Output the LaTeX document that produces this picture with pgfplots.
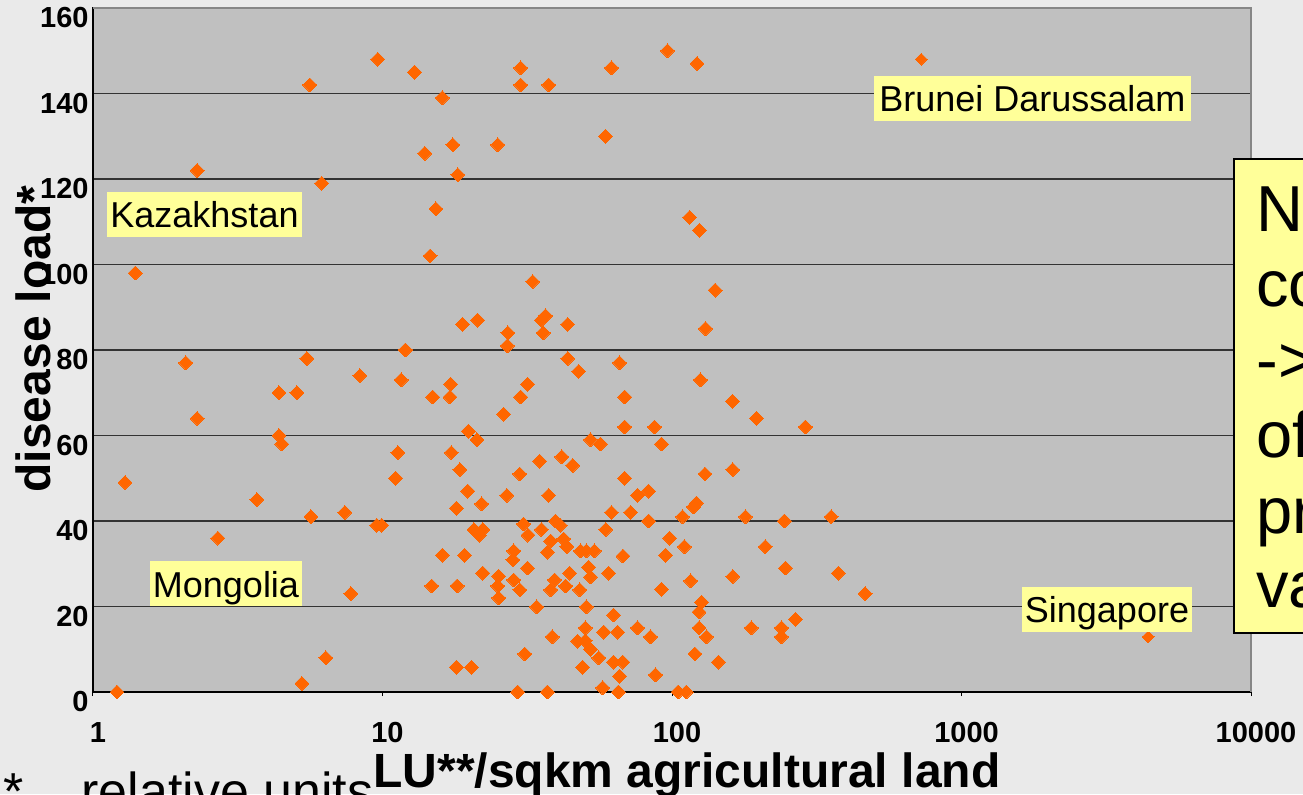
\documentclass[border=0pt]{standalone}
\usepackage{pgfplots}
\pgfplotsset{compat=1.18}
\usepackage{fontspec}
\setmainfont{Liberation Sans}
\definecolor{outerbg}{HTML}{EAEAEA}
\definecolor{plotbg}{HTML}{C0C0C0}
\definecolor{dots}{HTML}{FF6600}
\definecolor{labelyellow}{HTML}{FFFF99}
\definecolor{gridc}{HTML}{333333}
\definecolor{borderc}{HTML}{868686}
\begin{document}
\begin{tikzpicture}
\fill[outerbg] (0,0) rectangle (651.5pt,397pt);
\clip (0,0) rectangle (651.5pt,397pt);
\begin{scope}[x=0.5pt,y=-0.5pt,shift={(0pt,397pt)}]
 \node[anchor=base west, inner sep=0pt, font=\fontsize{26}{26}\selectfont] at (3,809) {*};
 \node[anchor=base west, inner sep=0pt, font=\fontsize{26}{26}\selectfont] at (81,809) {relative units};
\end{scope}
\begin{axis}[
 at={(46.5pt,51pt)}, anchor=south west,
 scale only axis, width=579pt, height=342pt,
 xmode=log, xmin=1, xmax=10000, ymin=0, ymax=160,
 xtick={1,10,100,1000,10000}, xticklabels={1,10,100,1000,10000},
 ytick={0,20,40,60,80,100,120,140,160}, yticklabels={0,20,40,60,80,100,120,140,160},
 xminorticks=false,
 tick pos=left,
 tick align=outside,
 major tick length=2pt,
 ytick style={draw=none},
 xtick style={black, line width=0.5pt},
 ymajorgrids, major grid style={gridc, line width=0.6pt},
 axis background/.style={fill=plotbg},
 axis line style={black, line width=0.6pt},
 tick label style={font=\fontsize{14.5}{14.5}\selectfont\bfseries},
 xticklabel style={anchor=north, inner sep=0pt, yshift=-13pt, xshift=2.5pt},
 yticklabel style={anchor=east, inner sep=0pt, yshift=-5pt},
 clip=false,
]
\addplot[only marks, mark=square*, mark size=2.45pt, mark options={rotate=45, fill=dots, draw=dots, line width=0pt}] coordinates {
(9.63,148) (12.9,145) (5.61,142) (16.1,139) (30.0,146) (30.0,142) (37.5,142) (61.8,146) (96.5,150) (122,147) (58.9,130) (25.0,128) (14.0,126) (17.5,128) (18.2,121) (2.29,122) (6.17,119) (15.3,113) (115,111) (124.5,108) (14.6,102) (1.40,98) (33.0,96) (141,94)
(18.9,86) (21.3,87) (27.1,84) (27.0,81) (36.6,88) (35.4,87) (35.9,84) (43.6,86) (12.0,80) (11.6,73) (14.9,69) (17.2,72) (17.1,69) (26.2,65) (31.7,72) (30.0,69) (43.6,78) (47.6,75) (65.9,77) (68.6,69) (68.6,62) (19.8,61) (21.2,59) (52.3,59) (56.6,58) (11.3,56) (17.3,56) (34.9,54) (41.6,55) (45.4,53) (18.5,52)
(130.5,85) (125.4,73) (161.7,68) (195.8,64) (289,62) (87.0,62) (92.0,58) (130,51) (162,52)
(11.1,50) (29.8,51) (19.7,47) (22.0,44) (18.0,43) (26.9,46) (37.5,46) (68.6,50) (61.8,42) (71.9,42) (9.94,39) (20.7,38) (22.2,38) (21.6,36.7) (30.7,39.3) (31.8,36.7) (35.4,38) (39.6,40) (41.1,39) (38.1,35.3) (37.1,32.7) (42.2,35.8) (43.3,34) (59.0,38) (48.3,33) (50.6,33) (53.9,33) (67.7,31.8) (16.1,32) (19.2,32) (28.4,33) (28.2,30.9) (31.7,29) (22.2,27.8) (25.2,27.1) (25.0,24.8) (25.2,22) (28.4,26.2) (29.8,23.9) (39.3,26.2) (38.1,23.9) (42.9,24.8) (44.3,27.8) (48.0,23.9) (51.5,29.2) (52.3,26.9) (60.4,27.8) (14.8,24.8) (18.1,24.8) (34.1,19.9) (50.6,19.9) (62.8,18) (50.2,15) (58.1,14) (64.9,14) (38.6,12.9) (47.2,11.9) (50.2,12) (52.3,10) (55.8,8) (62.8,7) (67.6,7) (65.9,3.7) (49.1,5.8) (31.0,8.9) (18.0,5.8) (20.3,5.8) (29.3,0) (37.1,0) (57.6,1) (65.3,0)
(105,0) (112,0) (76.0,15) (84.3,12.9) (87.7,4) (92,24) (116,26) (162,27) (246.5,29) (375.6,27.8) (465,23) (126.5,21) (124,18.7) (124,15) (131.5,12.9) (120,8.9) (144.7,7) (188,15) (238.8,15) (238.8,12.9) (267,17)
(76,46) (83.0,47) (83,40) (108.7,41) (118.6,43.3) (121.5,44.2) (179.4,41) (244.5,40) (355,41) (98.1,36) (110.4,34) (210,34) (95,32)
(2.09,77) (2.29,64) (4.39,70) (5.06,70) (5.48,78) (4.39,60) (4.49,58) (1.29,49) (3.68,45) (2.70,36) (5.66,41) (7.41,42) (9.55,39) (8.35,74) (1.21,0) (5.27,2) (6.37,8) (7.77,23)
};
\addplot[only marks, mark=square*, mark size=2.1pt, mark options={rotate=45, fill=dots, draw=dots, line width=0pt}] coordinates {
(726,148) (4414,12.9)
};
\end{axis}
\begin{scope}[x=0.5pt,y=-0.5pt,shift={(0pt,397pt)}]
 \draw[borderc, line width=1pt] (93,8) -- (1251,8) -- (1251,692);
 % country labels
 \fill[labelyellow] (107,192) rectangle (302,237);
 \node[anchor=base, inner sep=0pt, font=\fontsize{18}{18}\selectfont] at (204.5,228) {Kazakhstan};
 \fill[labelyellow] (150,561) rectangle (302,606);
 \node[anchor=base, inner sep=0pt, font=\fontsize{18}{18}\selectfont] at (226,597) {Mongolia};
 \fill[labelyellow] (874,76) rectangle (1191,121);
 \node[anchor=base, inner sep=0pt, font=\fontsize{18}{18}\selectfont] at (1032.5,112) {Brunei Darussalam};
 \fill[labelyellow] (1022,587) rectangle (1192,632);
 \node[anchor=base, inner sep=0pt, font=\fontsize{18}{18}\selectfont] at (1107,623) {Singapore};
 % note box
 \draw[fill=labelyellow, draw=black, line width=1pt] (1234,159) rectangle (1420,633);
 \begin{scope}[every node/.style={anchor=base west, inner sep=0pt, text=black, font=\fontsize{32.5}{32.5}\selectfont}]
  \node at (1256,232) {No};
  \node at (1256,307) {correlation};
  \node at (1256,383) {-> other};
  \node at (1256,458) {of};
  \node at (1256,533) {production};
  \node at (1256,608) {variables};
 \end{scope}
 % axis titles
 \node[rotate=90, anchor=base, inner sep=0pt, font=\fontsize{24}{24}\selectfont\bfseries] at (50,339) {disease load*};
 \node[anchor=base, inner sep=0pt, font=\fontsize{24}{24}\selectfont\bfseries] at (687,787) {LU**/sqkm agricultural land};
\end{scope}
\end{tikzpicture}
\end{document}
